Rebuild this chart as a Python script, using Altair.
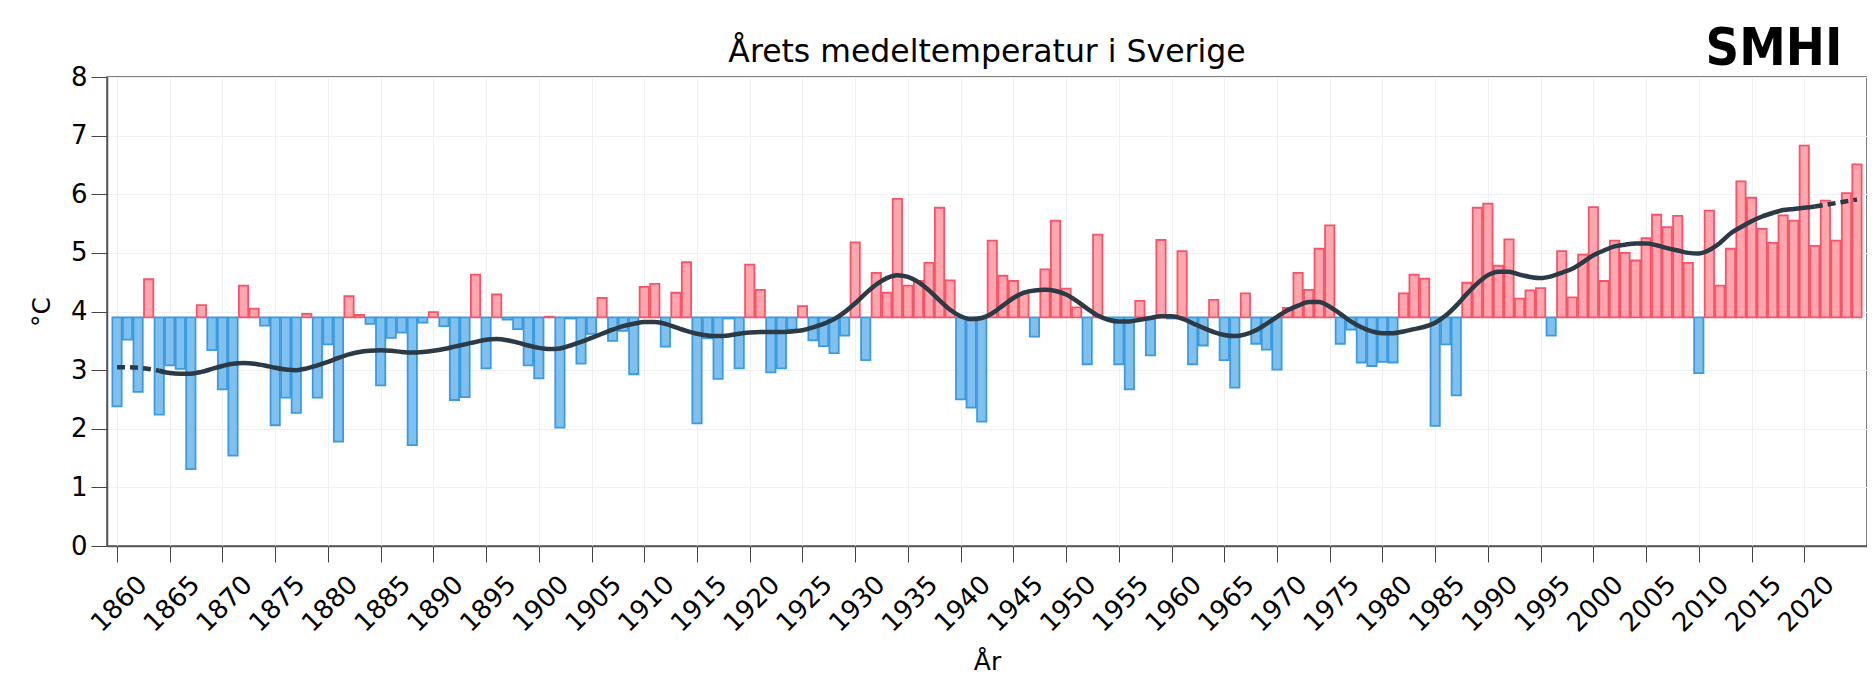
import altair as alt
import pandas as pd

START_YEAR = 1860
TEMPS = [
    2.38, 3.52, 2.63, 4.55, 2.24, 3.08, 3.02, 1.31, 4.11, 3.34,   # 1860-1869
    2.67, 1.54, 4.44, 4.05, 3.76, 2.06, 2.53, 2.27, 3.96, 2.53,   # 1870-1879
    3.44, 1.78, 4.26, 3.94, 3.79, 2.74, 3.55, 3.64, 1.72, 3.81,   # 1880-1889
    3.99, 3.75, 2.49, 2.54, 4.63, 3.03, 4.29, 3.86, 3.70, 3.08,   # 1890-1899
    2.86, 3.91, 2.02, 3.88, 3.11, 3.62, 4.23, 3.50, 3.67, 2.93,   # 1900-1909
    4.42, 4.47, 3.40, 4.32, 4.84, 2.09, 3.54, 2.85, 3.88, 3.03,   # 1910-1919
    4.80, 4.37, 2.96, 3.03, 3.69, 4.09, 3.51, 3.41, 3.29, 3.59,   # 1920-1929
    5.18, 3.17, 4.66, 4.32, 5.92, 4.44, 4.52, 4.83, 5.77, 4.53,   # 1930-1939
    2.50, 2.36, 2.12, 5.21, 4.61, 4.52, 4.31, 3.57, 4.72, 5.55,   # 1940-1949
    4.39, 4.07, 3.10, 5.31, 3.88, 3.10, 2.67, 4.18, 3.25, 5.22,   # 1950-1959
    3.88, 5.03, 3.10, 3.42, 4.20, 3.17, 2.70, 4.31, 3.45, 3.35,   # 1960-1969
    3.01, 4.06, 4.66, 4.37, 5.07, 5.47, 3.45, 3.69, 3.13, 3.07,   # 1970-1979
    3.14, 3.13, 4.31, 4.63, 4.56, 2.05, 3.44, 2.57, 4.49, 5.77,   # 1980-1989
    5.84, 4.78, 5.23, 4.22, 4.36, 4.40, 3.59, 5.03, 4.24, 4.97,   # 1990-1999
    5.78, 4.52, 5.21, 5.00, 4.87, 5.25, 5.65, 5.44, 5.63, 4.83,   # 2000-2009
    2.95, 5.72, 4.44, 5.07, 6.22, 5.94, 5.41, 5.17, 5.64, 5.55,   # 2010-2019
    6.83, 5.12, 5.89, 5.21, 6.02, 6.51,                           # 2020-2025
]
YEARS = list(range(START_YEAR, START_YEAR + len(TEMPS)))

SMOOTH = [
    3.05, 3.05, 3.04, 3.02, 2.99, 2.95, 2.94, 2.94, 2.97, 3.02,
    3.07, 3.11, 3.12, 3.11, 3.08, 3.04, 3.01, 3.00, 3.03, 3.08,
    3.14, 3.21, 3.27, 3.31, 3.33, 3.34, 3.33, 3.31, 3.30, 3.31,
    3.33, 3.36, 3.40, 3.44, 3.48, 3.52, 3.53, 3.51, 3.47, 3.42,
    3.38, 3.36, 3.37, 3.42, 3.48, 3.55, 3.62, 3.69, 3.75, 3.79,
    3.82, 3.82, 3.79, 3.73, 3.67, 3.62, 3.59, 3.58, 3.59, 3.62,
    3.64, 3.65, 3.65, 3.65, 3.66, 3.68, 3.73, 3.79, 3.87, 3.99,
    4.14, 4.31, 4.46, 4.57, 4.62, 4.59, 4.50, 4.36, 4.19, 4.03,
    3.92, 3.87, 3.89, 3.97, 4.10, 4.23, 4.32, 4.36, 4.37, 4.35,
    4.29, 4.18, 4.05, 3.93, 3.86, 3.83, 3.83, 3.86, 3.89, 3.92,
    3.92, 3.88, 3.80, 3.72, 3.65, 3.60, 3.58, 3.61, 3.68, 3.79,
    3.91, 4.02, 4.10, 4.16, 4.16, 4.08, 3.96, 3.83, 3.73, 3.66,
    3.63, 3.63, 3.66, 3.70, 3.74, 3.81, 3.93, 4.10, 4.30, 4.48,
    4.62, 4.68, 4.68, 4.63, 4.59, 4.57, 4.60, 4.66, 4.73, 4.84,
    4.96, 5.04, 5.11, 5.14, 5.16, 5.16, 5.13, 5.08, 5.04, 5.00,
    4.99, 5.05, 5.17, 5.33, 5.44, 5.54, 5.62, 5.68, 5.73, 5.75,
    5.77, 5.79, 5.82, 5.85, 5.88, 5.91,
]
SOLID_FROM = 1864
SOLID_TO = 2021

BASELINE = 3.9
X_TICKS = [1860, 1865, 1870, 1875, 1880, 1885, 1890, 1895, 1900, 1905,
           1910, 1915, 1920, 1925, 1930, 1935, 1940, 1945, 1950, 1955,
           1960, 1965, 1970, 1975, 1980, 1985, 1990, 1995, 2000, 2005,
           2010, 2015, 2020]
Y_TICKS = [0, 1, 2, 3, 4, 5, 6, 7, 8]

TITLE = "Årets medeltemperatur i Sverige"
X_TITLE = "År"
Y_TITLE = "°C"
LOGO = "SMHI"

bars_df = pd.DataFrame({"year": YEARS, "temp": TEMPS})
bars_df["base"] = BASELINE
bars_df["kind"] = ["varm" if t >= BASELINE else "kall" for t in TEMPS]
smooth_df = pd.DataFrame({"year": YEARS, "smooth": SMOOTH})

FONT = "DejaVu Sans"
xscale = alt.Scale(domain=[1859.05, 2025.95], nice=False, zero=False)
yscale = alt.Scale(domain=[0, 8], nice=False)

x_axis = alt.Axis(values=X_TICKS, format="d", labelAngle=-45, labelAlign="right",
                  labelBaseline="top", labelFontSize=26, labelColor="black",
                  labelOffset=16, labelPadding=9, labelOverlap=False,
                  tickSize=16, tickColor="#444",
                  domainColor="#555", domainWidth=1.5, gridColor="#eef1f3",
                  title=X_TITLE, titleFontSize=25, titleFontWeight="normal",
                  titleColor="black", titlePadding=13, labelFlush=False)
y_axis = alt.Axis(values=Y_TICKS, format="d", labelFontSize=26, labelColor="black",
                  labelPadding=4, tickSize=16, tickColor="#444",
                  domainColor="#555", domainWidth=1.5, gridColor="#eef1f3",
                  title=Y_TITLE, titleFontSize=25, titleFontWeight="normal",
                  titleColor="black", titlePadding=16)

bars = alt.Chart(bars_df).transform_calculate(
    x0="datum.year - 0.44", x1="datum.year + 0.44"
).mark_bar(strokeWidth=1.8, opacity=1).encode(
    x=alt.X("x0:Q", scale=xscale, axis=x_axis),
    x2="x1:Q",
    y=alt.Y("base:Q", scale=yscale, axis=y_axis),
    y2="temp:Q",
    fill=alt.Fill("kind:N", scale=alt.Scale(domain=["varm", "kall"],
                                            range=["#ffa6ae", "#80c0ef"]), legend=None),
    stroke=alt.Stroke("kind:N", scale=alt.Scale(domain=["varm", "kall"],
                                                range=["#f75468", "#3b9be0"]), legend=None),
)

LINE_COLOR = "#2b3a45"
solid = alt.Chart(smooth_df).transform_filter(
    (alt.datum.year >= SOLID_FROM) & (alt.datum.year <= SOLID_TO)
).mark_line(color=LINE_COLOR, strokeWidth=4.5, interpolate="monotone").encode(
    x=alt.X("year:Q", scale=xscale), y=alt.Y("smooth:Q", scale=yscale))
dash_start = alt.Chart(smooth_df).transform_filter(
    alt.datum.year <= SOLID_FROM
).mark_line(color=LINE_COLOR, strokeWidth=4.5, strokeDash=[8, 5],
            interpolate="monotone").encode(
    x=alt.X("year:Q", scale=xscale), y=alt.Y("smooth:Q", scale=yscale))
dash_end = alt.Chart(smooth_df).transform_filter(
    alt.datum.year >= SOLID_TO
).mark_line(color=LINE_COLOR, strokeWidth=4.5, strokeDash=[8, 5],
            interpolate="monotone").encode(
    x=alt.X("year:Q", scale=xscale), y=alt.Y("smooth:Q", scale=yscale))

title = alt.Chart(pd.DataFrame({"t": [TITLE]})).mark_text(
    font=FONT, fontSize=31.5, align="center", baseline="alphabetic", color="black"
).encode(text="t:N", x=alt.value(880), y=alt.value(-15))

logo = alt.Chart(pd.DataFrame({"t": [LOGO]})).mark_text(
    font="Liberation Sans Narrow, DejaVu Sans Condensed, Liberation Sans",
    fontWeight="bold", fontSize=52,
    align="center", baseline="alphabetic", color="black"
).encode(text="t:N", x=alt.value(1667), y=alt.value(-12))

chart = alt.layer(bars, solid, dash_start, dash_end, title, logo).properties(
    width=1760, height=469,
    autosize=alt.AutoSizeParams(type="none"),
    padding={"left": 99, "top": 69, "right": 0, "bottom": 132},
).configure(font=FONT).configure_view(stroke="#555", strokeWidth=1.5)

chart.save("out.html", embed_options={"renderer": "svg", "actions": False})
